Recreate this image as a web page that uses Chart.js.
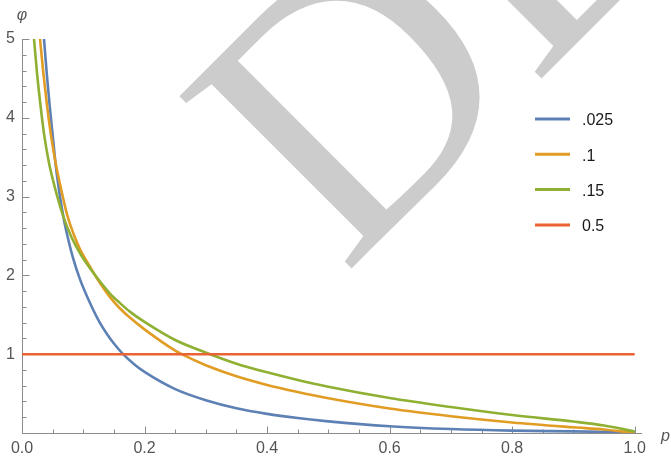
<!DOCTYPE html>
<html><head><meta charset="utf-8">
<script src="https://cdn.jsdelivr.net/npm/chart.js@4.4.1/dist/chart.umd.min.js"></script>
<style>html,body{margin:0;padding:0;background:#fff;}</style>
</head><body>
<canvas id="c" width="671" height="462"></canvas>
<script>
// ---- data ----
const seriesLabels = ['.025', '.1', '.15', '0.5'];
const seriesColors = ['#5E81B5', '#E19C24', '#8FB032', '#EB6235'];

const pBlue   = [0.0359,0.0403,0.0452,0.0506,0.055,0.059,0.0675,0.076,0.083,0.0947,0.111,0.127,0.14,0.15,0.165,0.184,0.2,0.25,0.3,0.35,0.4,0.45,0.5,0.6,0.7,0.8,0.9,1.0];
const phiBlue = [5.0,4.57,4.15,3.74,3.40,3.16,2.745,2.44,2.23,1.95,1.65,1.40,1.24,1.135,1.0,0.866,0.775,0.557,0.416,0.314,0.243,0.19,0.148,0.086,0.05,0.03,0.02,0.008];

const pOrange   = [0.0294,0.0348,0.0408,0.0473,0.0555,0.062,0.074,0.0865,0.0947,0.111,0.127,0.1436,0.16,0.176,0.2,0.25,0.2606,0.3,0.35,0.4,0.45,0.5,0.6,0.7,0.8,0.9,0.95,1.0];
const phiOrange = [5.0,4.57,4.16,3.78,3.40,3.16,2.76,2.48,2.33,2.11,1.905,1.725,1.58,1.465,1.315,1.045,1.0,0.86,0.72,0.61,0.52,0.44,0.31,0.213,0.134,0.072,0.044,0.0];

const pGreen   = [0.0196,0.0245,0.030,0.0359,0.044,0.052,0.0675,0.081,0.0947,0.111,0.127,0.1436,0.16,0.176,0.2,0.25,0.307,0.35,0.4,0.45,0.5,0.6,0.7,0.8,0.9,0.95,1.0];
const phiGreen = [5.0,4.57,4.17,3.80,3.43,3.165,2.745,2.48,2.28,2.09,1.925,1.77,1.648,1.54,1.41,1.18,1.0,0.88,0.77,0.673,0.587,0.444,0.33,0.228,0.145,0.095,0.02];

const pRed   = [0, 1.0];
const phiRed = [1, 1];

const xTickLabels = ['0.0','0.2','0.4','0.6','0.8','1.0'];
const yTickLabels = ['', '1','2','3','4','5'];
const xTitle = 'p';
const yTitle = 'φ';
const watermarkText = 'DEMO';

const toPts = (xs, ys) => xs.map((v, i) => ({x: v, y: ys[i]}));
const seriesX = [pBlue, pOrange, pGreen, pRed];
const seriesY = [phiBlue, phiOrange, phiGreen, phiRed];

const FONT = 'Liberation Sans, Arial, sans-serif';

const watermark = {
  id: 'watermark',
  beforeDatasetsDraw(chart) {
    const ctx = chart.ctx;
    ctx.save();
    ctx.translate(344, 276);
    ctx.rotate(-Math.PI / 4);
    ctx.fillStyle = '#cccccc';
    ctx.font = '372px "Liberation Serif", "Times New Roman", serif';
    ctx.textBaseline = 'alphabetic';
    ctx.textAlign = 'left';
    ctx.fillText(watermarkText, 0, 0);
    ctx.restore();
  }
};

const inTicks = {
  id: 'inTicks',
  beforeDatasetsDraw(chart) {
    const {ctx, scales: {x, y}} = chart;
    const y0 = Math.round(y.getPixelForValue(0)) + 0.5;
    const x0 = Math.round(x.getPixelForValue(0)) + 0.5;
    ctx.save();
    ctx.strokeStyle = '#8c8c8c';
    ctx.lineWidth = 1;
    ctx.beginPath();
    for (let k = 1; k <= 20; k++) {
      const px = Math.round(x.getPixelForValue(k * 0.05)) + 0.5;
      const len = (k % 4 === 0) ? 7 : 4;
      ctx.moveTo(px, y0); ctx.lineTo(px, y0 - len);
    }
    for (let k = 1; k <= 25; k++) {
      const py = Math.round(y.getPixelForValue(k * 0.2)) + 0.5;
      const len = (k % 5 === 0) ? 7 : 4;
      ctx.moveTo(x0, py); ctx.lineTo(x0 + len, py);
    }
    ctx.stroke();
    ctx.restore();
  }
};

const customLegend = {
  id: 'customLegend',
  afterDatasetsDraw(chart) {
    const ctx = chart.ctx;
    ctx.save();
    seriesLabels.forEach((lab, i) => {
      const yy = 119 + 35.3 * i;
      ctx.strokeStyle = seriesColors[i];
      ctx.lineWidth = 3;
      ctx.beginPath(); ctx.moveTo(535, yy); ctx.lineTo(570, yy); ctx.stroke();
      ctx.fillStyle = '#1a1a1a';
      ctx.font = '16px ' + FONT;
      ctx.textBaseline = 'middle';
      ctx.textAlign = 'left';
      ctx.fillText(lab, 582, yy + 2);
    });
    ctx.fillStyle = '#555555';
    ctx.font = 'italic 16px ' + FONT;
    ctx.textAlign = 'center';
    ctx.textBaseline = 'middle';
    ctx.fillText(yTitle, 22, 16);
    ctx.textAlign = 'left';
    ctx.fillText(xTitle, 661, 437);
    ctx.restore();
  }
};

new Chart(document.getElementById('c'), {
  type: 'line',
  data: {
    datasets: seriesLabels.map((lab, i) => ({
      label: lab,
      data: toPts(seriesX[i], seriesY[i]),
      borderColor: seriesColors[i],
      backgroundColor: seriesColors[i],
      borderWidth: 2.6,
      pointRadius: 0,
      fill: false,
      cubicInterpolationMode: 'monotone',
      order: 3 - i
    }))
  },
  options: {
    responsive: false,
    animation: false,
    layout: {padding: {top: 39, right: 30, left: 0, bottom: 0}},
    plugins: {legend: {display: false}, tooltip: {enabled: false}},
    scales: {
      x: {
        type: 'linear', min: 0, max: 1.0103,
        afterFit(s) { s.height = 29; },
        grid: {display: false, drawTicks: false},
        border: {display: true, color: '#8c8c8c', width: 1},
        ticks: {
          stepSize: 0.2, includeBounds: false, autoSkip: false, maxRotation: 0,
          padding: 6, color: '#555555', font: {family: FONT, size: 16},
          callback: (v) => { const i = Math.round(v / 0.2); return Math.abs(v - i * 0.2) < 1e-6 ? (xTickLabels[i] ?? '') : ''; }
        }
      },
      y: {
        type: 'linear', min: 0, max: 5,
        afterFit(s) { s.width = 22; },
        grid: {display: false, drawTicks: false},
        border: {display: true, color: '#8c8c8c', width: 1},
        ticks: {
          stepSize: 1, includeBounds: false, autoSkip: false,
          padding: 7, color: '#555555', font: {family: FONT, size: 16},
          callback: (v) => { const i = Math.round(v); return Math.abs(v - i) < 1e-6 ? (yTickLabels[i] ?? '') : ''; }
        }
      }
    }
  },
  plugins: [watermark, inTicks, customLegend]
});
</script>
</body></html>
